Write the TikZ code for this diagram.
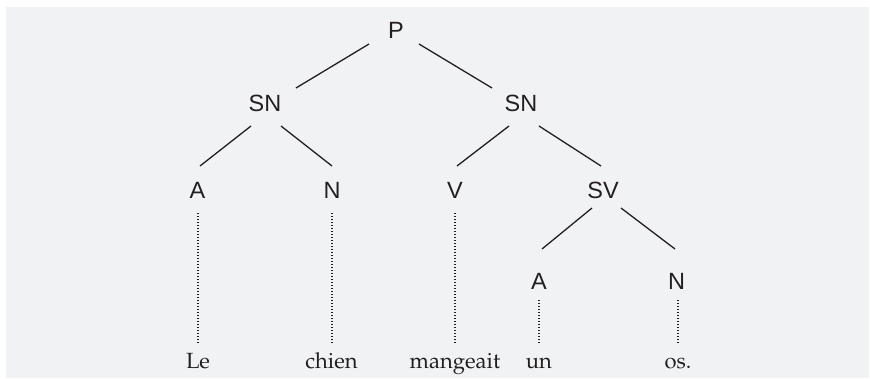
\documentclass[tikz,border=0pt]{standalone}
\usepackage{fontspec}
\usepackage[T1,TU]{fontenc}
\setsansfont{Liberation Sans}
\usetikzlibrary{calc}
\definecolor{panel}{HTML}{F1F2F4}
\definecolor{ink}{HTML}{231F20}
\tikzset{
  cat/.style={inner sep=0pt, text=ink, font=\sffamily\fontsize{23.5}{26}\selectfont},
  word/.style={inner sep=0pt, anchor=base, text=ink,
    font=\fontencoding{T1}\fontfamily{ppl}\fontsize{22}{24}\selectfont},
  branch/.style={draw=ink, line width=1.3pt},
  link/.style={draw=ink, line width=1.4pt, dash pattern=on 1.3pt off 1.7pt},
}
\begin{document}
\begin{tikzpicture}[x=1pt, y=-1pt]
  \useasboundingbox (0,0) rectangle (870,378);
  \fill[panel] (6,7) rectangle (869,378);

  % category labels
  \node[cat] (P)   at (396,30)    {P};
  \node[cat] (SNa) at (265,103)   {SN};
  \node[cat] (SNb) at (521,103)   {SN};
  \node[cat] (A)   at (197.5,190.5) {A};
  \node[cat] (N)   at (332,190.5) {N};
  \node[cat] (V)   at (455,190.5) {V};
  \node[cat] (SV)  at (603,190.5) {SV};
  \node[cat] (A2)  at (539,281)   {A};
  \node[cat] (N2)  at (676.5,281) {N};

  % words
  \node[word] (w1) at (198,368) {Le};
  \node[word] (w2) at (331.5,368) {chien};
  \node[word] (w3) at (455,368) {mangeait};
  \node[word] (w4) at (539,368) {un};
  \node[word] (w5) at (678,368) {os.};

  % tree branches
  \draw[branch] ($(P)+(-27,14)$)     -- ($(SNa)+(31,-15)$);
  \draw[branch] ($(P)+(23,14)$)      -- ($(SNb)+(-29,-15)$);
  \draw[branch] ($(SNa)+(-14,23)$)   -- ($(A)+(2.5,-24.5)$);
  \draw[branch] ($(SNa)+(16,23)$)    -- ($(N)+(0,-24.5)$);
  \draw[branch] ($(SNb)+(-12,23)$)   -- ($(V)+(2,-24.5)$);
  \draw[branch] ($(SNb)+(18,23)$)    -- ($(SV)+(-2,-24.5)$);
  \draw[branch] ($(SV)+(-11,17.5)$)  -- ($(A2)+(3,-32)$);
  \draw[branch] ($(SV)+(18,17.5)$)   -- ($(N2)+(-1.5,-32)$);

  % dotted links to the words
  \draw[link] ($(A)+(0.5,22.5)$)  -- ($(w1.base)+(0,-24)$);
  \draw[link] ($(N)+(0,22.5)$)    -- ($(w2.base)+(0.5,-24)$);
  \draw[link] ($(V)+(0,22.5)$)    -- ($(w3.base)+(0,-24)$);
  \draw[link] ($(A2)+(0,19)$)     -- ($(w4.base)+(0,-24)$);
  \draw[link] ($(N2)+(1.5,19)$)   -- ($(w5.base)+(0,-24)$);
\end{tikzpicture}
\end{document}
